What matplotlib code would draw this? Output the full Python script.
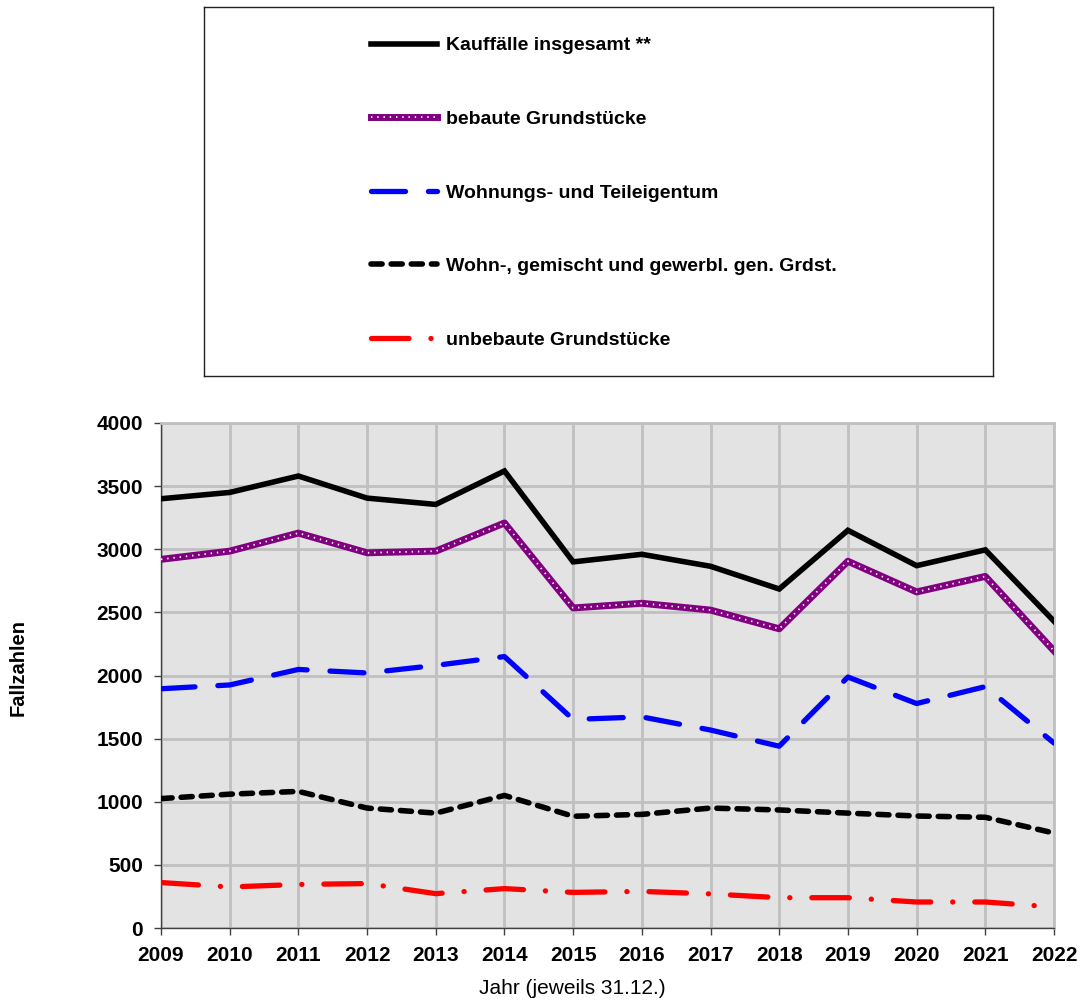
import matplotlib
matplotlib.use("Agg")
import matplotlib.pyplot as plt
from matplotlib.lines import Line2D

plt.rcParams['font.family'] = ['Liberation Sans', 'DejaVu Sans']
plt.rcParams['lines.scale_dashes'] = False

years = [2009, 2010, 2011, 2012, 2013, 2014, 2015, 2016, 2017, 2018, 2019, 2020, 2021, 2022]
kauffaelle = [3400, 3450, 3580, 3405, 3355, 3620, 2900, 2960, 2865, 2685, 3150, 2870, 2995, 2430]
bebaut = [2920, 2985, 3128, 2972, 2985, 3208, 2535, 2572, 2518, 2370, 2905, 2662, 2785, 2195]
wohnungseigentum = [1895, 1925, 2048, 2020, 2080, 2150, 1652, 1672, 1568, 1440, 1988, 1778, 1912, 1465]
wohn_gemischt = [1025, 1060, 1082, 950, 910, 1050, 885, 900, 950, 935, 910, 887, 877, 752]
unbebaut = [360, 325, 345, 352, 272, 312, 282, 290, 270, 240, 240, 206, 206, 166]

labels = ["Kauffälle insgesamt **", "bebaute Grundstücke", "Wohnungs- und Teileigentum",
          "Wohn-, gemischt und gewerbl. gen. Grdst.", "unbebaute Grundstücke"]
yticks = [0, 500, 1000, 1500, 2000, 2500, 3000, 3500, 4000]

W, H = 1081, 1000
fig = plt.figure(figsize=(W / 100, H / 100), dpi=100)

ax = fig.add_axes([161 / W, (H - 928) / H, (1054 - 161) / W, (928 - 423) / H])
ax.set_facecolor('#E3E3E3')
ax.set_xlim(years[0], years[-1])
ax.set_ylim(0, 4000)
ax.set_xticks(years)
ax.set_yticks(yticks)
ax.grid(True, color='#C0C0C0', linewidth=2.0, zorder=0)
ax.set_axisbelow(True)
for s in ['top', 'right']:
    ax.spines[s].set_color('#C0C0C0')
    ax.spines[s].set_linewidth(2.0)
for s in ['left', 'bottom']:
    ax.spines[s].set_color('#404040')
    ax.spines[s].set_linewidth(1.0)
ax.tick_params(axis='both', length=5, width=1, color='#404040', labelsize=15)
ax.tick_params(axis='y', pad=8)
ax.tick_params(axis='x', pad=8)
for lab in ax.get_xticklabels() + ax.get_yticklabels():
    lab.set_fontweight('bold')

l1, = ax.plot(years, kauffaelle, color='black', lw=4.0, solid_joinstyle='miter', zorder=5)
l2a, = ax.plot(years, bebaut, color='#800080', lw=5.0, zorder=5)
l2b, = ax.plot(years, bebaut, color='white', lw=1.3, dashes=(1.0, 3.5), zorder=6)
l3, = ax.plot(years, wohnungseigentum, color='#0000FF', lw=3.8, dashes=(24.5, 16.5),
              dash_capstyle='round', zorder=5)
l4, = ax.plot(years, wohn_gemischt, color='black', lw=4.0, dashes=(8.0, 6.5),
              dash_capstyle='round', zorder=5)
l5, = ax.plot(years, unbebaut, color='#FF0000', lw=3.8, dashes=(27.0, 15.8, 0.1, 15.8),
              dash_capstyle='round', zorder=5)

fig.text(18 / W, 1 - 668 / H, 'Fallzahlen', rotation=90, ha='center', va='center',
         fontsize=14.5, fontweight='bold')
fig.text(572 / W, 1 - 988 / H, 'Jahr (jeweils 31.12.)', ha='center', va='center', fontsize=15)

# legend box
lax = fig.add_axes([204 / W, (H - 376) / H, (993 - 204) / W, (376 - 7) / H])
lax.set_xticks([])
lax.set_yticks([])
lax.set_facecolor('white')
for s in lax.spines.values():
    s.set_color('#202020')
    s.set_linewidth(1.0)

leg = lax.legend([l1, (l2a, l2b), l3, l4, l5], labels, loc='upper left',
                 bbox_to_anchor=((370 - 204 - 7) / (993 - 204), 1 - 22 / 369),
                 frameon=False, prop={'size': 14, 'weight': 'bold'},
                 handlelength=3.4, handletextpad=0.45, labelspacing=2.88,
                 borderpad=0.4, borderaxespad=0)

fig.savefig('out.png', dpi=100)
